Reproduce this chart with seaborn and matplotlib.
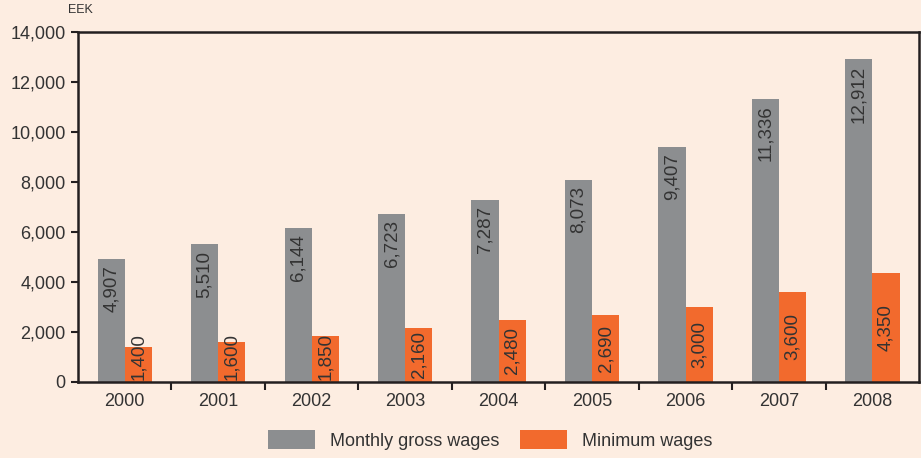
import matplotlib
matplotlib.use("Agg")
import matplotlib.pyplot as plt
import seaborn as sns
import pandas as pd
from matplotlib.ticker import FuncFormatter, MultipleLocator

years = ["2000", "2001", "2002", "2003", "2004", "2005", "2006", "2007", "2008"]
gross = [4907, 5510, 6144, 6723, 7287, 8073, 9407, 11336, 12912]
minimum = [1400, 1600, 1850, 2160, 2480, 2690, 3000, 3600, 4350]
series = ["Monthly gross wages", "Minimum wages"]

bg = "#fdede1"
colors = ["#8c8e90", "#f26a2d"]
txt = "#333333"

sns.set_theme(style="white")
plt.rcParams["font.family"] = ["Liberation Sans", "DejaVu Sans"]

df = pd.DataFrame({
    "year": years * 2,
    "value": gross + minimum,
    "series": [series[0]] * len(years) + [series[1]] * len(years),
})

fig = plt.figure(figsize=(9.21, 4.58), dpi=100, facecolor=bg)
ax = fig.add_axes([0.0847, 0.166, 0.9133, 0.764])
ax.set_facecolor(bg)

sns.barplot(data=df, x="year", y="value", hue="series", order=years,
            hue_order=series, palette=colors, width=0.58, saturation=1,
            linewidth=0, edgecolor="none", ax=ax, legend=True)

ax.set_ylim(0, 14000)
ax.set_xlim(-0.5, len(years) - 0.5)
ax.yaxis.set_major_locator(MultipleLocator(2000))
ax.yaxis.set_major_formatter(FuncFormatter(lambda v, p: f"{int(v):,}"))
ax.set_xlabel("")
ax.set_ylabel("")

for s in ax.spines.values():
    s.set_visible(True)
    s.set_color("#231f20")
    s.set_linewidth(1.8)

ax.tick_params(axis="y", which="major", direction="out", length=5, width=1.5,
               color="#231f20", labelsize=13, labelcolor=txt, pad=4, left=True)
ax.tick_params(axis="x", which="major", length=0, labelsize=13, labelcolor=txt, pad=8)
ax.set_xticks(range(len(years)))
ax.set_xticklabels(years)
ax.set_xticks([i + 0.5 for i in range(len(years) - 1)], minor=True)
ax.tick_params(axis="x", which="minor", direction="out", length=6, width=1.5,
               color="#231f20", bottom=True)

# value labels
for i, v in enumerate(gross):
    ax.text(i - 0.145, v - 250, f"{v:,}", rotation=90, ha="center", va="top",
            fontsize=13.5, color=txt)
for i, v in enumerate(minimum):
    yc = max(v / 2, 1000)
    ax.text(i + 0.145, yc, f"{v:,}", rotation=90, ha="center", va="center",
            fontsize=13.5, color=txt)

fig.text(0.074, 0.978, "EEK", fontsize=9, color=txt, ha="left", va="center")

leg = ax.legend(loc="center", bbox_to_anchor=(0.49, -0.165), ncol=2, frameon=False,
                fontsize=13, handlelength=2.6, handleheight=1.3, columnspacing=1.1,
                handletextpad=0.85)
for t in leg.get_texts():
    t.set_color(txt)
for h in leg.legend_handles:
    h.set_linewidth(0)

fig.savefig("out.png", dpi=100, facecolor=bg)
